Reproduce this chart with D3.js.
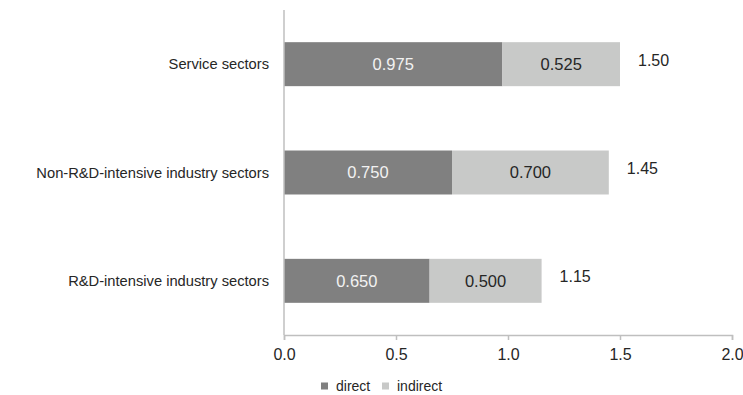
<!DOCTYPE html>
<html>
<head>
<meta charset="utf-8">
<script src="https://cdn.jsdelivr.net/npm/d3@7"></script>
<style>
  body { margin: 0; background: #fff; }
  text { font-family: "Liberation Sans", Arial, sans-serif; }
</style>
</head>
<body>
<svg width="743" height="395"></svg>
<script>
const categories = ['Service sectors', 'Non-R&D-intensive industry sectors', 'R&D-intensive industry sectors'];
const direct = [0.975, 0.750, 0.650];
const indirect = [0.525, 0.700, 0.500];
const totals = [1.50, 1.45, 1.15];
const xTicks = [0, 0.5, 1.0, 1.5, 2.0];
const seriesNames = ['direct', 'indirect'];
const colors = ['#808080', '#c8c9c8'];

const svg = d3.select('svg');
const plotLeft = 284, plotRight = 732, plotTop = 10, plotBottom = 335;

const x = d3.scaleLinear().domain([0, 2]).range([plotLeft, plotRight]);
const y = d3.scaleBand().domain(categories).range([plotTop, plotBottom])
    .paddingInner(0.594).paddingOuter(0.297);

const rows = categories.map((c, i) => ({
  cat: c,
  segs: [
    {x0: 0, x1: direct[i], v: direct[i], k: 0},
    {x0: direct[i], x1: direct[i] + indirect[i], v: indirect[i], k: 1},
  ],
  total: totals[i],
}));

const g = svg.selectAll('g.row')
    .data(rows)
    .enter()
    .append('g')
    .attr('class', 'row');

g.selectAll('rect')
    .data(d => d.segs.map(s => ({...s, cat: d.cat})))
    .enter()
    .append('rect')
    .attr('x', d => x(d.x0))
    .attr('y', d => y(d.cat))
    .attr('width', d => x(d.x1) - x(d.x0))
    .attr('height', y.bandwidth())
    .style('fill', d => colors[d.k]);

g.selectAll('text.val')
    .data(d => d.segs.map(s => ({...s, cat: d.cat})))
    .enter()
    .append('text')
    .attr('class', 'val')
    .attr('x', d => (x(d.x0) + x(d.x1)) / 2)
    .attr('y', d => y(d.cat) + y.bandwidth() / 2)
    .attr('dy', '0.35em')
    .attr('text-anchor', 'middle')
    .style('font-size', '16.5px')
    .style('fill', d => d.k === 0 ? '#f2f2f2' : '#262626')
    .text(d => d.v.toFixed(3));

g.append('text')
    .attr('x', d => x(d.total) + 18)
    .attr('y', d => y(d.cat) + y.bandwidth() / 2 - 4)
    .attr('dy', '0.35em')
    .style('font-size', '16px')
    .style('fill', '#262626')
    .text(d => d.total.toFixed(2));

// category labels
svg.append('g')
    .selectAll('text')
    .data(categories)
    .enter()
    .append('text')
    .attr('x', plotLeft - 15)
    .attr('y', d => y(d) + y.bandwidth() / 2)
    .attr('dy', '0.35em')
    .attr('text-anchor', 'end')
    .style('font-size', '14.7px')
    .style('fill', '#262626')
    .text(d => d);

// axes
const xAxis = svg.append('g')
    .attr('transform', `translate(0, ${plotBottom})`)
    .call(d3.axisBottom(x).tickValues(xTicks).tickFormat(d3.format('.1f')).tickSize(5).tickPadding(9));
xAxis.select('.domain').attr('stroke', '#bfbfbf').attr('stroke-width', 1.5);
xAxis.selectAll('.tick line').attr('stroke', '#bfbfbf').attr('stroke-width', 1.5);
xAxis.selectAll('.tick text')
    .style('font-size', '16px')
    .style('fill', '#262626')
    .style('font-family', '"Liberation Sans", Arial, sans-serif');

svg.append('line')
    .attr('x1', plotLeft).attr('x2', plotLeft)
    .attr('y1', plotTop).attr('y2', plotBottom)
    .attr('stroke', '#bfbfbf')
    .attr('stroke-width', 1.5);

// legend
const legend = svg.append('g')
    .selectAll('g')
    .data(seriesNames)
    .enter()
    .append('g')
    .attr('transform', (d, i) => `translate(${[321, 382][i]}, 386)`);
legend.append('rect')
    .attr('x', 0).attr('y', -3.5)
    .attr('width', 7).attr('height', 7)
    .style('fill', (d, i) => colors[i]);
legend.append('text')
    .attr('x', 15)
    .attr('dy', '0.35em')
    .style('font-size', '14px')
    .style('fill', '#262626')
    .text(d => d);
</script>
</body>
</html>
